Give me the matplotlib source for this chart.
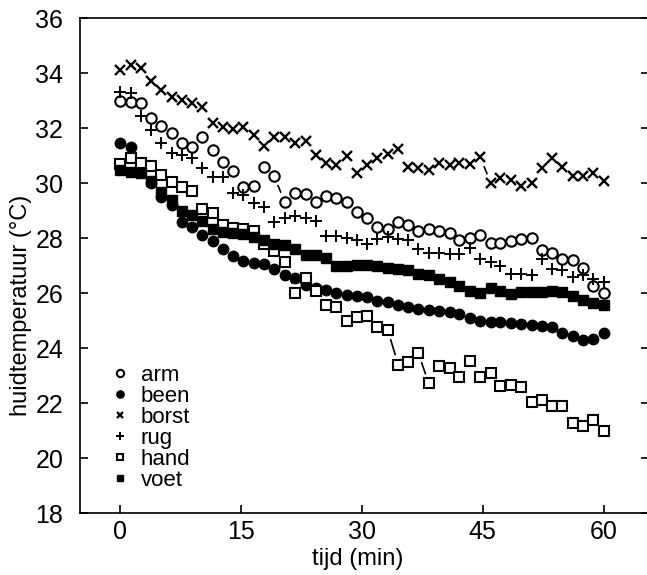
import matplotlib.pyplot as plt
from matplotlib.lines import Line2D
import numpy as np

plt.rcParams['font.family'] = ['Liberation Sans', 'DejaVu Sans']

# sample times (min): 48 readings over the hour
tijd = [0.0, 1.3, 2.6, 3.8, 5.1, 6.4, 7.7, 8.9, 10.2, 11.5, 12.8, 14.0,
        15.3, 16.6, 17.9, 19.1, 20.4, 21.7, 23.0, 24.3, 25.5, 26.8, 28.1, 29.4,
        30.6, 31.9, 33.2, 34.5, 35.7, 37.0, 38.3, 39.6, 40.9, 42.1, 43.4, 44.7,
        46.0, 47.2, 48.5, 49.8, 51.1, 52.3, 53.6, 54.9, 56.2, 57.4, 58.7, 60.0]

arm = [33.01, 32.97, 32.91, 32.36, 32.08, 31.84, 31.48, 31.33, 31.67, 31.21, 30.79, 30.46,
       29.88, 29.90, 30.61, 30.27, 29.33, 29.64, 29.61, 29.33, 29.54, 29.45, 29.33, 28.97,
       28.75, 28.42, 28.33, 28.61, 28.48, 28.27, 28.33, 28.27, 28.21, 27.93, 28.01, 28.13,
       27.84, 27.83, 27.90, 27.99, 28.02, 27.56, 27.48, 27.26, 27.22, 26.91, 26.28, 26.00]

been = [31.47, 31.32, 30.60, 30.00, 29.50, 29.20, 28.60, 28.41, 28.11, 27.89, 27.62, 27.35,
        27.16, 27.11, 27.05, 26.88, 26.67, 26.55, 26.30, 26.18, 26.13, 26.01, 25.94, 25.89,
        25.85, 25.73, 25.70, 25.57, 25.49, 25.44, 25.41, 25.37, 25.33, 25.24, 25.09, 25.00,
        24.96, 24.94, 24.91, 24.88, 24.85, 24.82, 24.76, 24.57, 24.45, 24.29, 24.33, 24.55]

borst = [34.12, 34.30, 34.18, 33.73, 33.39, 33.15, 33.03, 32.91, 32.76, 32.18, 32.04, 31.96,
         32.04, 31.76, 31.35, 31.67, 31.67, 31.45, 31.55, 31.03, 30.75, 30.67, 30.99, 30.39,
         30.65, 30.91, 31.07, 31.26, 30.58, 30.55, 30.48, 30.75, 30.67, 30.73, 30.70, 30.95,
         30.00, 30.18, 30.12, 29.90, 30.00, 30.55, 30.91, 30.61, 30.27, 30.27, 30.36, 30.10]

rug = [33.33, 33.27, 32.45, 31.92, 31.45, 31.09, 31.03, 30.91, 30.55, 30.24, 30.24, 29.66,
       29.58, 29.27, 29.13, 28.60, 28.72, 28.82, 28.72, 28.62, 28.09, 28.09, 28.01, 27.93,
       27.80, 27.99, 28.05, 27.99, 27.93, 27.61, 27.47, 27.46, 27.44, 27.44, 27.65, 27.26,
       27.13, 26.99, 26.71, 26.71, 26.67, 27.26, 26.87, 26.83, 26.59, 26.65, 26.52, 26.40]

hand = [30.70, 30.91, 30.75, 30.63, 30.30, 30.06, 29.88, 29.73, 29.06, 28.93, 28.50, 28.38,
        28.33, 28.26, 27.80, 27.54, 27.15, 26.02, 26.55, 26.10, 25.57, 25.50, 25.00, 25.12,
        25.16, 24.76, 24.67, 23.41, 23.50, 23.83, 22.72, 23.35, 23.29, 22.96, 23.54, 22.96,
        23.11, 22.62, 22.68, 22.60, 22.04, 22.11, 21.91, 21.89, 21.30, 21.18, 21.38, 20.98]

voet = [30.48, 30.42, 30.36, 30.10, 29.70, 29.40, 29.00, 28.84, 28.62, 28.35, 28.23, 28.21,
        28.17, 28.05, 27.95, 27.80, 27.77, 27.62, 27.40, 27.38, 27.28, 26.99, 26.99, 27.04,
        27.04, 26.99, 26.91, 26.87, 26.83, 26.71, 26.65, 26.52, 26.40, 26.26, 26.10, 26.01,
        26.18, 26.10, 25.98, 26.04, 26.04, 26.06, 26.10, 26.04, 25.89, 25.77, 25.65, 25.57]

SERIES = [
    ("arm", arm, dict(marker="o", mfc="white", ms=7.5, mew=1.5)),
    ("been", been, dict(marker="o", mfc="black", ms=7.5, mew=1.0)),
    ("borst", borst, dict(marker="x", ms=6.5, mew=1.7)),
    ("rug", rug, dict(marker="+", ms=8.5, mew=1.4)),
    ("hand", hand, dict(marker="s", mfc="white", ms=7, mew=1.5)),
    ("voet", voet, dict(marker="s", mfc="black", ms=7, mew=1.0)),
]

fig = plt.figure(figsize=(6.47, 5.75), dpi=100)
ax = fig.add_axes([0.1236, 0.1073, 0.879, 0.8609])
ax.set_xlim(-5, 65.6)
ax.set_ylim(18, 36)


def gapped_line(ax, x, y, gap=10.5, min_len=5):
    """Connect points, leaving a gap round each marker (as in the original)."""
    pts = ax.transData.transform(np.column_stack([x, y]))
    inv = ax.transData.inverted()
    for p0, p1 in zip(pts[:-1], pts[1:]):
        d = np.hypot(*(p1 - p0))
        if d - 2 * gap < min_len:
            continue
        u = (p1 - p0) / d
        seg = inv.transform(np.array([p0 + u * gap, p1 - u * gap]))
        ax.plot(seg[:, 0], seg[:, 1], color="black", lw=1.2, zorder=1)


handles = []
for name, vals, style in SERIES:
    gapped_line(ax, tijd, vals)
    ax.plot(tijd, vals, ls="none", color="black", mec="black", zorder=2, **style)
    small = dict(style)
    small["ms"] = style["ms"] * 0.7
    handles.append(Line2D([], [], ls="none", color="black", mec="black", label=name, **small))

ax.legend(handles=handles, loc="lower left", bbox_to_anchor=(0.058, 0.045),
          frameon=False, fontsize=16, handlelength=0.6, handletextpad=0.65,
          labelspacing=0.0, borderaxespad=0.0, borderpad=0.0)

ax.set_xticks([0, 15, 30, 45, 60])
ax.set_yticks(range(18, 37, 2))
ax.tick_params(direction="in", length=6, width=1.2, labelsize=18,
               right=True, top=False)
ax.tick_params(axis="y", pad=12)
ax.tick_params(axis="x", pad=5)
for side in ["left", "bottom", "top"]:
    ax.spines[side].set_linewidth(1.2)
ax.spines["right"].set_visible(False)

ax.set_xlabel("tijd (min)", fontsize=17)
ax.xaxis.set_label_coords(0.489, -0.071)
ax.set_ylabel("huidtemperatuur (°C)", fontsize=17)
ax.yaxis.set_label_coords(-0.085, 0.42)

fig.savefig("out.png", dpi=100)
